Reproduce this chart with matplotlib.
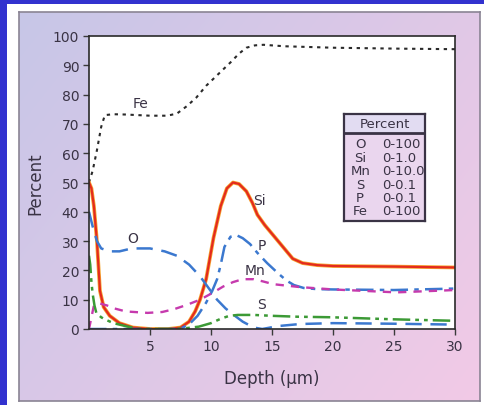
import matplotlib
matplotlib.use("Agg")
import matplotlib.pyplot as plt
import numpy as np

# depth (um) and percent readings for each element
fe_x = [0, 0.3, 0.65, 1.0, 1.3, 2, 3, 4, 5, 6.4, 7.2, 8.0, 8.8, 9.6, 10.6, 11.6, 12.3, 12.9, 13.6, 14.3, 16, 20, 25, 30]
fe_y = [50, 54, 61, 69, 73, 73.3, 73.2, 73, 72.8, 72.8, 73.5, 76, 79, 83, 87, 91, 94, 96, 96.8, 97, 96.5, 96, 95.7, 95.5]

si_x = [0, 0.2, 0.4, 0.65, 0.9, 1.2, 1.7, 2.5, 3.6, 5, 6.5, 7.5, 8.2, 8.7, 9.1, 9.6, 10.2, 10.8, 11.3, 11.8, 12.3, 12.9, 13.4, 13.8, 14.4, 15.1, 15.9, 16.7, 17.5, 18.7, 20, 25, 30]
si_y = [50, 48, 42, 30, 13, 7.5, 4.5, 2, 0.5, 0, 0, 0.5, 2.5, 6, 10, 17, 31, 42, 48, 50, 49.5, 47, 43, 39, 35.5, 32, 28, 24, 22.5, 21.8, 21.5, 21.3, 21]

o_x = [0, 0.3, 0.65, 1.0, 1.7, 2.5, 3.5, 5, 6.2, 7.2, 8.2, 9.1, 9.8, 10.5, 11.2, 11.8, 12.6, 13.5, 14.2, 14.6, 15.5, 17.3, 20, 25, 30]
o_y = [40, 35, 30, 27.5, 26.5, 26.5, 27.5, 27.5, 26.5, 25, 22, 18, 14, 10, 7, 5, 2.5, 0.5, 0, 0.3, 1, 1.7, 2, 1.8, 1.5]

p_x = [0, 2, 4, 6, 7.2, 7.7, 8.3, 8.9, 9.6, 10.1, 10.5, 10.8, 11.1, 11.6, 12.1, 12.6, 13.2, 13.8, 14.6, 15.5, 16.2, 16.8, 17.6, 18.7, 20, 25, 30]
p_y = [0, 0, 0, 0, 0, 0.5, 2, 4.5, 9, 13, 17, 22, 28, 31.5, 32, 31, 29, 26, 22.5, 19, 16.5, 15, 14, 13.6, 13.5, 13.3, 13.8]

mn_x = [0, 0.15, 0.4, 0.9, 1.5, 2.1, 3, 4.8, 6, 7, 8, 9.1, 10.2, 11, 11.8, 12.6, 13.5, 14.3, 15.1, 17.3, 20, 25.2, 30]
mn_y = [0, 3, 8, 8.7, 8, 7, 6, 5.5, 5.8, 6.8, 8.2, 10, 12.5, 14.5, 16, 17, 17, 16.2, 15.3, 14.3, 13.5, 12.5, 13.3]

s_x = [0, 0.1, 0.2, 0.3, 0.45, 0.6, 1.0, 1.3, 2, 3, 4, 7, 8, 9, 10, 10.8, 11.5, 12.2, 13.5, 15, 17, 19.9, 25, 30]
s_y = [25, 22, 16, 12, 8, 5.5, 4, 3.3, 2, 1, 0, 0, 0.3, 0.8, 2, 3.5, 4.5, 4.8, 4.8, 4.5, 4.2, 4, 3.3, 2.8]

labels = ["Fe", "Si", "O", "P", "Mn", "S"]
label_x = [4.2, 14.0, 3.6, 14.2, 13.6, 14.1]
label_y = [77, 44, 31, 28.5, 20, 8.5]

key_symbols = ["O", "Si", "Mn", "S", "P", "Fe"]
key_ranges = ["0-100", "0-1.0", "0-10.0", "0-0.1", "0-0.1", "0-100"]

txt = "#3a3345"
W, H = 484, 406
fig = plt.figure(figsize=(W / 100, H / 100), dpi=100)
fig.patch.set_facecolor("#3232cf")

# white card and gradient panel behind the chart
card = fig.add_axes([7 / W, 0, 1 - 7 / W, 1 - 5 / H])
card.set_facecolor("white")
card.set_xticks([])
card.set_yticks([])
for s in card.spines.values():
    s.set_visible(False)

bg = fig.add_axes([19 / W, 1 - 402 / H, (480 - 19) / W, (402 - 13) / H])
gx, gy = np.meshgrid(np.linspace(0, 1, 200), np.linspace(0, 1, 200))
t = np.clip(0.6 * gx + 0.4 * gy, 0, 1)
c0 = np.array([199, 198, 232]) / 255
c1 = np.array([242, 202, 230]) / 255
img = c0[None, None, :] * (1 - t[..., None]) + c1[None, None, :] * t[..., None]
bg.imshow(img, aspect="auto", extent=[0, 1, 0, 1], origin="upper")
bg.set_xticks([])
bg.set_yticks([])
for s in bg.spines.values():
    s.set_color("#8a8494")
    s.set_linewidth(1.2)

ax = fig.add_axes([89 / W, 1 - 330 / H, (455 - 89) / W, (330 - 37) / H])
ax.set_facecolor("white")

ax.plot(fe_x, fe_y, color="#2a2a2a", lw=1.5, dashes=(1.6, 2.2))
ax.plot(si_x, si_y, color="#f5a531", lw=2.7)
ax.plot(si_x, si_y, color="#e42a1e", lw=1.6)
ax.plot(o_x, o_y, color="#3b78cf", lw=1.8, dashes=(6.5, 3.5))
ax.plot(p_x, p_y, color="#3b78cf", lw=1.8, dashes=(7, 2.5, 1.8, 2.5))
ax.plot(mn_x, mn_y, color="#c63aad", lw=1.7, dashes=(3.5, 3))
ax.plot(s_x, s_y, color="#3c9a36", lw=1.8, dashes=(7, 2, 1.5, 2, 1.5, 2))

for lab, lx, ly in zip(labels, label_x, label_y):
    ax.text(lx, ly, lab, fontsize=10, color=txt, ha="center", va="center")

ax.set_xlim(0, 30)
ax.set_ylim(0, 100)
ax.set_xticks([5, 10, 15, 20, 25, 30])
ax.set_yticks(range(0, 101, 10))
ax.tick_params(direction="out", length=4, width=1, colors="#3a3a3a",
               labelsize=10, labelcolor=txt, pad=3)
for s in ax.spines.values():
    s.set_color("#2a2a2a")
    s.set_linewidth(1.2)
ax.set_xlabel("Depth (\u00b5m)", fontsize=12, color=txt, labelpad=12)
ax.set_ylabel("Percent", fontsize=12, color=txt, labelpad=6)

# key box with the scale of each element
key = fig.add_axes([344 / W, 1 - 222 / H, 81 / W, 107 / H])
key.set_xlim(0, 1)
key.set_ylim(0, 107)
key.set_xticks([])
key.set_yticks([])
key.set_facecolor("#ead6ee")
key.axhspan(107 - 19, 107, color="#e2dcf2")
key.axhline(107 - 19, color="#3a3345", lw=2)
for s in key.spines.values():
    s.set_color("#3a3345")
    s.set_linewidth(1.6)
key.text(0.5, 107 - 10, "Percent", ha="center", va="center", fontsize=9.5, color=txt)
for i, (sym, rng) in enumerate(zip(key_symbols, key_ranges)):
    yy = 107 - (30 + i * 13.4)
    key.text(0.2, yy, sym, ha="center", va="center", fontsize=9.5, color=txt)
    key.text(0.47, yy, rng, ha="left", va="center", fontsize=9.5, color=txt)

fig.savefig("out.png", dpi=100)
